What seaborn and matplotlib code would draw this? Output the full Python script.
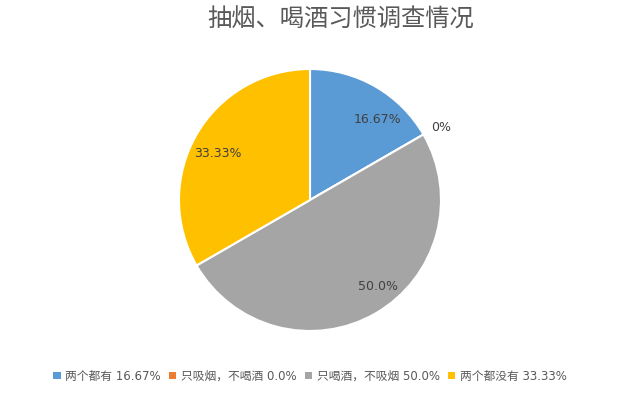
import numpy as np
import matplotlib
matplotlib.use("Agg")
import matplotlib.pyplot as plt
from matplotlib.patches import Patch
import seaborn as sns

# Survey data
categories = ['两个都有', '只吸烟，不喝酒', '只喝酒，不吸烟', '两个都没有']
shares = [16.67, 0.0, 50.0, 33.33]
data_labels = ['16.67%', '0%', '50.0%', '33.33%']
legend_pcts = ['16.67%', '0.0%', '50.0%', '33.33%']
colors = ['#5B9BD5', '#ED7D31', '#A5A5A5', '#FFC000']

# best-fit label nudges (degrees, radius) like the office chart
label_shift = [(-10, 0.80), (-1, 1.14), (8, 0.84), (3, 0.79)]

sns.set_style("white")
fonts = ['DejaVu Sans', 'Noto Sans CJK SC']
plt.rcParams['font.family'] = fonts

fig = plt.figure(figsize=(6.22, 3.94), dpi=100)
cx, cy, r = 310, 394 - 200, 131
ax = fig.add_axes([(cx - r) / 622, (cy - r) / 394, 2 * r / 622, 2 * r / 394])

wedges, _ = ax.pie(shares, colors=colors, startangle=90, counterclock=False,
                   radius=1.0, wedgeprops={'edgecolor': 'white', 'linewidth': 1.5})
ax.set_xlim(-1, 1)
ax.set_ylim(-1, 1)
ax.set_aspect('equal')
ax.axis('off')

# data labels around each wedge's mid angle
for w, lab, (da, dist) in zip(wedges, data_labels, label_shift):
    mid = np.deg2rad((w.theta1 + w.theta2) / 2 + da)
    ax.text(dist * np.cos(mid), dist * np.sin(mid), lab, ha='center', va='center',
            fontsize=9, color='#404040', family=fonts)

fig.text(341 / 622, 1 - 20 / 394, '抽烟、喝酒习惯调查情况', ha='center', va='center',
         fontsize=17.5, color='#595959', family=['Noto Sans CJK SC', 'DejaVu Sans'])

handles = [Patch(facecolor=c, edgecolor='none') for c in colors]
labels = [f'{c} {p}' for c, p in zip(categories, legend_pcts)]
fig.legend(handles, labels, loc='center', bbox_to_anchor=(310 / 622, 1 - 376 / 394),
           ncol=4, frameon=False, fontsize=8.5, labelcolor='#595959',
           prop={'family': fonts, 'size': 8.5},
           handlelength=0.6, handleheight=0.6, handletextpad=0.4, columnspacing=0.7)

fig.savefig('out.png', dpi=100)
